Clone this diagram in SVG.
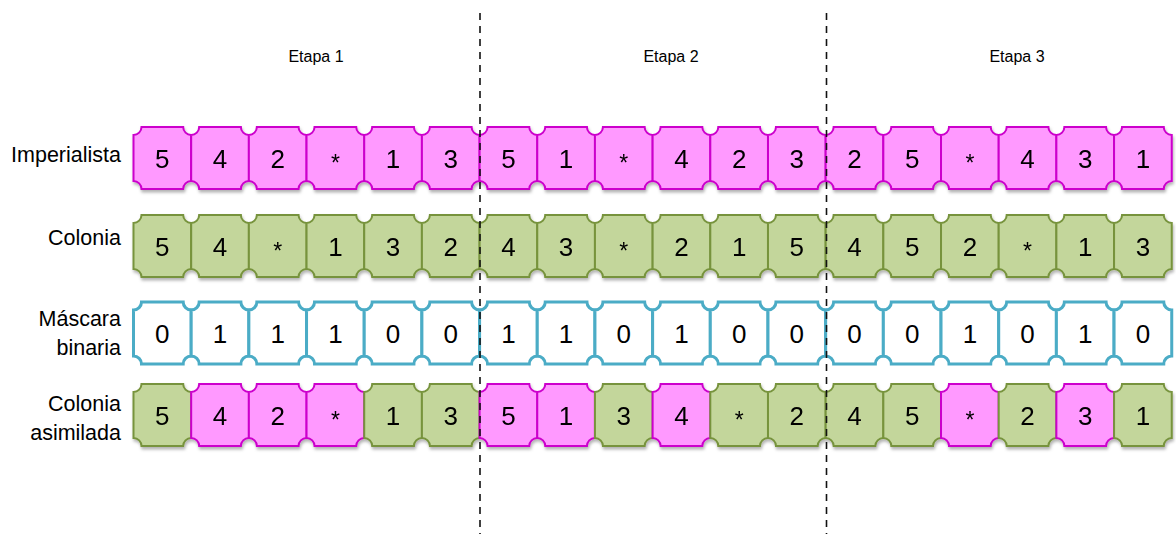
<svg xmlns="http://www.w3.org/2000/svg" xmlns:xlink="http://www.w3.org/1999/xlink" width="1176" height="534" viewBox="0 0 1176 534">
<style>
.pk{fill:#FF99FF;stroke:#CC00CC;stroke-width:2}
.gr{fill:#C3D69B;stroke:#77933C;stroke-width:2}
.tl{fill:#FFFFFF;stroke:#4BACC6;stroke-width:3}
.n{font-family:"Liberation Sans",Arial,sans-serif;font-size:26px;fill:#000;text-anchor:middle}
.s{font-family:"Liberation Sans",Arial,sans-serif;font-size:23px;fill:#000;text-anchor:middle}
.lb{font-family:"Liberation Sans",Arial,sans-serif;font-size:21.5px;fill:#000;text-anchor:end}
.et{font-family:"Liberation Sans",Arial,sans-serif;font-size:16px;fill:#000;text-anchor:middle}
.dv{stroke:#111;stroke-width:1.6;stroke-dasharray:7 6;fill:none}
</style>
<defs>
<path id="tile" d="M8,0 H49.68 A8,8 0 0 0 57.68,8 V54 A8,8 0 0 0 49.68,62 H8 A8,8 0 0 0 0,54 V8 A8,8 0 0 0 8,0 Z"/>
<filter id="sh" x="-5%" y="-10%" width="110%" height="130%">
<feDropShadow dx="1" dy="2.5" stdDeviation="1.5" flood-color="#000" flood-opacity="0.3"/>
</filter>
</defs>
<rect width="1176" height="534" fill="#FFFFFF"/>
<g id="stage-labels">
<text class="et" x="316" y="62">Etapa 1</text>
<text class="et" x="671" y="62">Etapa 2</text>
<text class="et" x="1017" y="62">Etapa 3</text>
</g>
<g id="row-labels">
<text class="lb" x="121" y="162">Imperialista</text>
<text class="lb" x="121" y="245">Colonia</text>
<text class="lb" x="121" y="326">Máscara</text>
<text class="lb" x="121" y="355">binaria</text>
<text class="lb" x="121" y="411">Colonia</text>
<text class="lb" x="121" y="440">asimilada</text>
</g>
<g id="row-imperialista" filter="url(#sh)">
<g id="imp1"><use xlink:href="#tile" href="#tile" class="pk" x="133.5" y="127"/><text class="n" x="162.34" y="167.5">5</text></g>
<g id="imp2"><use xlink:href="#tile" href="#tile" class="pk" x="191.18" y="127"/><text class="n" x="220.02" y="167.5">4</text></g>
<g id="imp3"><use xlink:href="#tile" href="#tile" class="pk" x="248.86" y="127"/><text class="n" x="277.7" y="167.5">2</text></g>
<g id="imp4"><use xlink:href="#tile" href="#tile" class="pk" x="306.54" y="127"/><text class="s" x="335.38" y="171">*</text></g>
<g id="imp5"><use xlink:href="#tile" href="#tile" class="pk" x="364.22" y="127"/><text class="n" x="393.06" y="167.5">1</text></g>
<g id="imp6"><use xlink:href="#tile" href="#tile" class="pk" x="421.9" y="127"/><text class="n" x="450.74" y="167.5">3</text></g>
<g id="imp7"><use xlink:href="#tile" href="#tile" class="pk" x="479.58" y="127"/><text class="n" x="508.42" y="167.5">5</text></g>
<g id="imp8"><use xlink:href="#tile" href="#tile" class="pk" x="537.26" y="127"/><text class="n" x="566.1" y="167.5">1</text></g>
<g id="imp9"><use xlink:href="#tile" href="#tile" class="pk" x="594.94" y="127"/><text class="s" x="623.78" y="171">*</text></g>
<g id="imp10"><use xlink:href="#tile" href="#tile" class="pk" x="652.62" y="127"/><text class="n" x="681.46" y="167.5">4</text></g>
<g id="imp11"><use xlink:href="#tile" href="#tile" class="pk" x="710.3" y="127"/><text class="n" x="739.14" y="167.5">2</text></g>
<g id="imp12"><use xlink:href="#tile" href="#tile" class="pk" x="767.98" y="127"/><text class="n" x="796.82" y="167.5">3</text></g>
<g id="imp13"><use xlink:href="#tile" href="#tile" class="pk" x="825.66" y="127"/><text class="n" x="854.5" y="167.5">2</text></g>
<g id="imp14"><use xlink:href="#tile" href="#tile" class="pk" x="883.34" y="127"/><text class="n" x="912.18" y="167.5">5</text></g>
<g id="imp15"><use xlink:href="#tile" href="#tile" class="pk" x="941.02" y="127"/><text class="s" x="969.86" y="171">*</text></g>
<g id="imp16"><use xlink:href="#tile" href="#tile" class="pk" x="998.7" y="127"/><text class="n" x="1027.54" y="167.5">4</text></g>
<g id="imp17"><use xlink:href="#tile" href="#tile" class="pk" x="1056.38" y="127"/><text class="n" x="1085.22" y="167.5">3</text></g>
<g id="imp18"><use xlink:href="#tile" href="#tile" class="pk" x="1114.06" y="127"/><text class="n" x="1142.9" y="167.5">1</text></g>
</g>
<g id="row-colonia" filter="url(#sh)">
<g id="col1"><use xlink:href="#tile" href="#tile" class="gr" x="133.5" y="215"/><text class="n" x="162.34" y="255.5">5</text></g>
<g id="col2"><use xlink:href="#tile" href="#tile" class="gr" x="191.18" y="215"/><text class="n" x="220.02" y="255.5">4</text></g>
<g id="col3"><use xlink:href="#tile" href="#tile" class="gr" x="248.86" y="215"/><text class="s" x="277.7" y="259">*</text></g>
<g id="col4"><use xlink:href="#tile" href="#tile" class="gr" x="306.54" y="215"/><text class="n" x="335.38" y="255.5">1</text></g>
<g id="col5"><use xlink:href="#tile" href="#tile" class="gr" x="364.22" y="215"/><text class="n" x="393.06" y="255.5">3</text></g>
<g id="col6"><use xlink:href="#tile" href="#tile" class="gr" x="421.9" y="215"/><text class="n" x="450.74" y="255.5">2</text></g>
<g id="col7"><use xlink:href="#tile" href="#tile" class="gr" x="479.58" y="215"/><text class="n" x="508.42" y="255.5">4</text></g>
<g id="col8"><use xlink:href="#tile" href="#tile" class="gr" x="537.26" y="215"/><text class="n" x="566.1" y="255.5">3</text></g>
<g id="col9"><use xlink:href="#tile" href="#tile" class="gr" x="594.94" y="215"/><text class="s" x="623.78" y="259">*</text></g>
<g id="col10"><use xlink:href="#tile" href="#tile" class="gr" x="652.62" y="215"/><text class="n" x="681.46" y="255.5">2</text></g>
<g id="col11"><use xlink:href="#tile" href="#tile" class="gr" x="710.3" y="215"/><text class="n" x="739.14" y="255.5">1</text></g>
<g id="col12"><use xlink:href="#tile" href="#tile" class="gr" x="767.98" y="215"/><text class="n" x="796.82" y="255.5">5</text></g>
<g id="col13"><use xlink:href="#tile" href="#tile" class="gr" x="825.66" y="215"/><text class="n" x="854.5" y="255.5">4</text></g>
<g id="col14"><use xlink:href="#tile" href="#tile" class="gr" x="883.34" y="215"/><text class="n" x="912.18" y="255.5">5</text></g>
<g id="col15"><use xlink:href="#tile" href="#tile" class="gr" x="941.02" y="215"/><text class="n" x="969.86" y="255.5">2</text></g>
<g id="col16"><use xlink:href="#tile" href="#tile" class="gr" x="998.7" y="215"/><text class="s" x="1027.54" y="259">*</text></g>
<g id="col17"><use xlink:href="#tile" href="#tile" class="gr" x="1056.38" y="215"/><text class="n" x="1085.22" y="255.5">1</text></g>
<g id="col18"><use xlink:href="#tile" href="#tile" class="gr" x="1114.06" y="215"/><text class="n" x="1142.9" y="255.5">3</text></g>
</g>
<g id="row-mascara">
<g id="mas1"><use xlink:href="#tile" href="#tile" class="tl" x="133.5" y="302"/><text class="n" x="162.34" y="342.5">0</text></g>
<g id="mas2"><use xlink:href="#tile" href="#tile" class="tl" x="191.18" y="302"/><text class="n" x="220.02" y="342.5">1</text></g>
<g id="mas3"><use xlink:href="#tile" href="#tile" class="tl" x="248.86" y="302"/><text class="n" x="277.7" y="342.5">1</text></g>
<g id="mas4"><use xlink:href="#tile" href="#tile" class="tl" x="306.54" y="302"/><text class="n" x="335.38" y="342.5">1</text></g>
<g id="mas5"><use xlink:href="#tile" href="#tile" class="tl" x="364.22" y="302"/><text class="n" x="393.06" y="342.5">0</text></g>
<g id="mas6"><use xlink:href="#tile" href="#tile" class="tl" x="421.9" y="302"/><text class="n" x="450.74" y="342.5">0</text></g>
<g id="mas7"><use xlink:href="#tile" href="#tile" class="tl" x="479.58" y="302"/><text class="n" x="508.42" y="342.5">1</text></g>
<g id="mas8"><use xlink:href="#tile" href="#tile" class="tl" x="537.26" y="302"/><text class="n" x="566.1" y="342.5">1</text></g>
<g id="mas9"><use xlink:href="#tile" href="#tile" class="tl" x="594.94" y="302"/><text class="n" x="623.78" y="342.5">0</text></g>
<g id="mas10"><use xlink:href="#tile" href="#tile" class="tl" x="652.62" y="302"/><text class="n" x="681.46" y="342.5">1</text></g>
<g id="mas11"><use xlink:href="#tile" href="#tile" class="tl" x="710.3" y="302"/><text class="n" x="739.14" y="342.5">0</text></g>
<g id="mas12"><use xlink:href="#tile" href="#tile" class="tl" x="767.98" y="302"/><text class="n" x="796.82" y="342.5">0</text></g>
<g id="mas13"><use xlink:href="#tile" href="#tile" class="tl" x="825.66" y="302"/><text class="n" x="854.5" y="342.5">0</text></g>
<g id="mas14"><use xlink:href="#tile" href="#tile" class="tl" x="883.34" y="302"/><text class="n" x="912.18" y="342.5">0</text></g>
<g id="mas15"><use xlink:href="#tile" href="#tile" class="tl" x="941.02" y="302"/><text class="n" x="969.86" y="342.5">1</text></g>
<g id="mas16"><use xlink:href="#tile" href="#tile" class="tl" x="998.7" y="302"/><text class="n" x="1027.54" y="342.5">0</text></g>
<g id="mas17"><use xlink:href="#tile" href="#tile" class="tl" x="1056.38" y="302"/><text class="n" x="1085.22" y="342.5">1</text></g>
<g id="mas18"><use xlink:href="#tile" href="#tile" class="tl" x="1114.06" y="302"/><text class="n" x="1142.9" y="342.5">0</text></g>
</g>
<g id="row-asimilada" filter="url(#sh)">
<g id="asi1"><use xlink:href="#tile" href="#tile" class="gr" x="133.5" y="384"/><text class="n" x="162.34" y="424.5">5</text></g>
<g id="asi2"><use xlink:href="#tile" href="#tile" class="pk" x="191.18" y="384"/><text class="n" x="220.02" y="424.5">4</text></g>
<g id="asi3"><use xlink:href="#tile" href="#tile" class="pk" x="248.86" y="384"/><text class="n" x="277.7" y="424.5">2</text></g>
<g id="asi4"><use xlink:href="#tile" href="#tile" class="pk" x="306.54" y="384"/><text class="s" x="335.38" y="428">*</text></g>
<g id="asi5"><use xlink:href="#tile" href="#tile" class="gr" x="364.22" y="384"/><text class="n" x="393.06" y="424.5">1</text></g>
<g id="asi6"><use xlink:href="#tile" href="#tile" class="gr" x="421.9" y="384"/><text class="n" x="450.74" y="424.5">3</text></g>
<g id="asi7"><use xlink:href="#tile" href="#tile" class="pk" x="479.58" y="384"/><text class="n" x="508.42" y="424.5">5</text></g>
<g id="asi8"><use xlink:href="#tile" href="#tile" class="pk" x="537.26" y="384"/><text class="n" x="566.1" y="424.5">1</text></g>
<g id="asi9"><use xlink:href="#tile" href="#tile" class="gr" x="594.94" y="384"/><text class="n" x="623.78" y="424.5">3</text></g>
<g id="asi10"><use xlink:href="#tile" href="#tile" class="pk" x="652.62" y="384"/><text class="n" x="681.46" y="424.5">4</text></g>
<g id="asi11"><use xlink:href="#tile" href="#tile" class="gr" x="710.3" y="384"/><text class="s" x="739.14" y="428">*</text></g>
<g id="asi12"><use xlink:href="#tile" href="#tile" class="gr" x="767.98" y="384"/><text class="n" x="796.82" y="424.5">2</text></g>
<g id="asi13"><use xlink:href="#tile" href="#tile" class="gr" x="825.66" y="384"/><text class="n" x="854.5" y="424.5">4</text></g>
<g id="asi14"><use xlink:href="#tile" href="#tile" class="gr" x="883.34" y="384"/><text class="n" x="912.18" y="424.5">5</text></g>
<g id="asi15"><use xlink:href="#tile" href="#tile" class="pk" x="941.02" y="384"/><text class="s" x="969.86" y="428">*</text></g>
<g id="asi16"><use xlink:href="#tile" href="#tile" class="gr" x="998.7" y="384"/><text class="n" x="1027.54" y="424.5">2</text></g>
<g id="asi17"><use xlink:href="#tile" href="#tile" class="pk" x="1056.38" y="384"/><text class="n" x="1085.22" y="424.5">3</text></g>
<g id="asi18"><use xlink:href="#tile" href="#tile" class="gr" x="1114.06" y="384"/><text class="n" x="1142.9" y="424.5">1</text></g>
</g>
<g id="connectors">
<line class="dv" x1="480" y1="13" x2="480" y2="534"/>
<line class="dv" x1="826.5" y1="13" x2="826.5" y2="534"/>
</g>
</svg>
